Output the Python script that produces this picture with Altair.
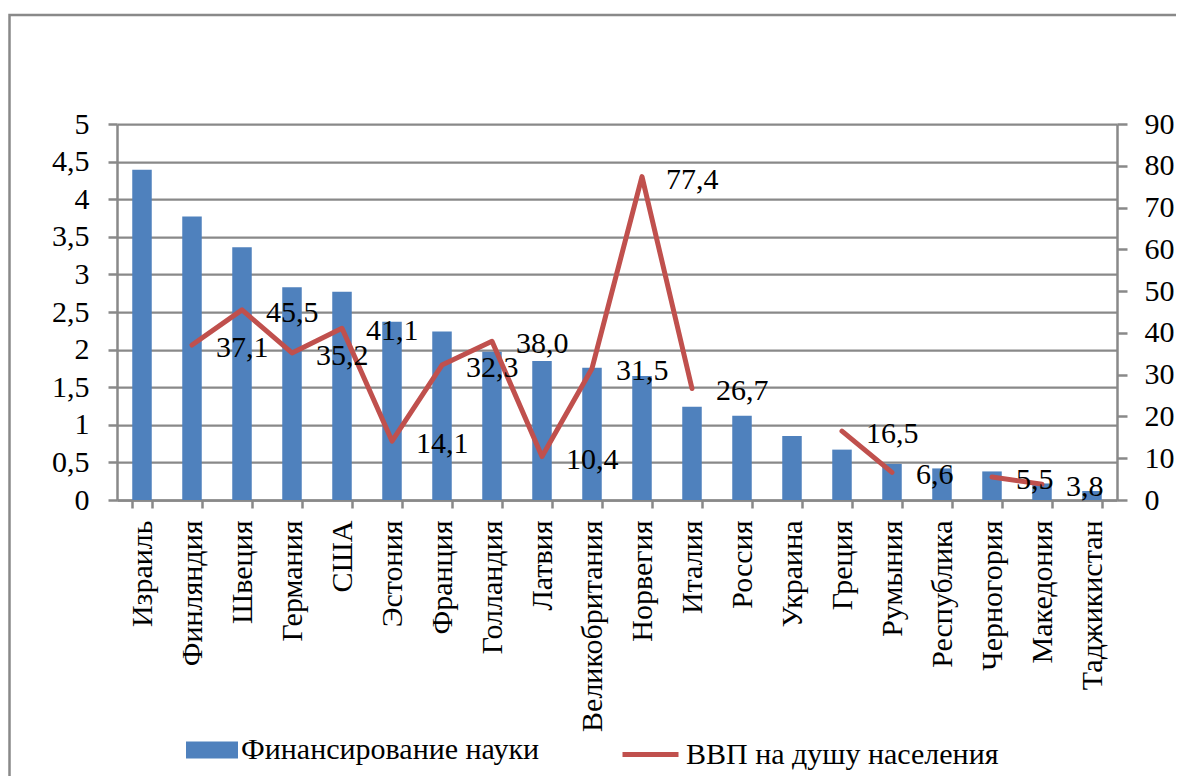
import altair as alt
import pandas as pd

countries = ["Израиль", "Финляндия", "Швеция", "Германия", "США", "Эстония",
             "Франция", "Голландия", "Латвия", "Великобритания", "Норвегия",
             "Италия", "Россия", "Украина", "Греция", "Румыния", "Республика",
             "Черногория", "Македония", "Таджикистан"]
science = [4.39, 3.77, 3.36, 2.83, 2.77, 2.37, 2.24, 1.97, 1.85, 1.76, 1.65,
           1.24, 1.12, 0.85, 0.67, 0.48, 0.42, 0.38, 0.22, 0.12]
gdp = [None, 37.1, 45.5, 35.2, 41.1, 14.1, 32.3, 38.0, 10.4, 31.5, 77.4,
       26.7, None, None, 16.5, 6.6, None, 5.5, 3.8, None]
left_ticks = [0, 0.5, 1, 1.5, 2, 2.5, 3, 3.5, 4, 4.5, 5]
right_ticks = [0, 10, 20, 30, 40, 50, 60, 70, 80, 90]
series_bar = "Финансирование науки"
series_line = "ВВП на душу населения"

FONT = "Liberation Serif, Times New Roman, Times, DejaVu Serif, Noto Serif, serif"
GREY = "#898989"
BLUE = "#4F81BD"
RED = "#C0504D"
FS = 30

df = pd.DataFrame({"country": countries, "science": science, "gdp": gdp})
base = alt.Chart(df)

x_enc = alt.X(
    "country:N", sort=countries,
    scale=alt.Scale(paddingInner=0.61, paddingOuter=0.305),
    axis=alt.Axis(title=None, labelAngle=270, labelAlign="right",
                  labelBaseline="middle", labelPadding=12, tickBand="extent",
                  tickSize=8, grid=False, labelFont=FONT, labelFontSize=FS,
                  labelColor="black", labelLimit=400),
)

bars = base.transform_calculate(s1=f"'{series_bar}'").mark_bar().encode(
    x=x_enc,
    y=alt.Y("science:Q",
            scale=alt.Scale(domain=[0, 5], nice=False, zero=True),
            axis=alt.Axis(title=None, values=left_ticks, format="~g",
                          labelExpr="replace(datum.label, '.', ',')",
                          grid=True, tickSize=9, labelPadding=19,
                          labelFont=FONT, labelFontSize=FS, labelColor="black")),
    fill=alt.Fill("s1:N", scale=alt.Scale(domain=[series_bar], range=[BLUE]),
                  legend=alt.Legend(title=None, orient="none", legendX=69,
                                    legendY=600, padding=0,
                                    symbolType="M-1,-0.33H1V0.33H-1Z",
                                    symbolSize=2704, symbolStrokeWidth=0,
                                    labelOffset=3, labelFont=FONT,
                                    labelFontSize=FS, labelColor="black",
                                    labelLimit=600)),
)

y_right = alt.Y("gdp:Q", scale=alt.Scale(domain=[0, 90], nice=False, zero=True),
                axis=alt.Axis(title=None, orient="right", values=right_ticks,
                              grid=False, tickSize=10, labelPadding=17,
                              labelFont=FONT, labelFontSize=FS,
                              labelColor="black"))

line = base.transform_calculate(s2=f"'{series_line}'").mark_line(
    strokeWidth=5, strokeCap="round", strokeJoin="round",
    invalid="break-paths-show-domains"
).encode(
    x=x_enc,
    y=y_right,
    stroke=alt.Stroke("s2:N", scale=alt.Scale(domain=[series_line], range=[RED]),
                      legend=alt.Legend(title=None, orient="none", legendX=503,
                                        legendY=600, padding=0,
                                        symbolType="stroke", symbolSize=3136,
                                        symbolStrokeWidth=5, labelOffset=5,
                                        labelFont=FONT, labelFontSize=FS,
                                        labelColor="black", labelLimit=600)),
)

labels = base.transform_filter("isValid(datum.gdp)").transform_calculate(
    lbl="replace(format(datum.gdp, '.1f'), '.', ',')"
).mark_text(font=FONT, fontSize=FS, align="left", baseline="middle",
            dx=24, dy=3, color="black").encode(
    x=x_enc,
    y=alt.Y("gdp:Q", scale=alt.Scale(domain=[0, 90], nice=False, zero=True),
            axis=None),
    text="lbl:N",
)

frame = alt.Chart(pd.DataFrame({"k": [0]})).mark_rect(
    fill="transparent", stroke=GREY, strokeWidth=2.5
).encode(
    x=alt.value(-107.5), x2=alt.value(1300),
    y=alt.value(-109), y2=alt.value(900),
)

chart = alt.layer(frame, bars, line, labels).resolve_scale(
    y="independent", fill="independent", stroke="independent"
).properties(
    width=1000, height=376,
    autosize=alt.AutoSizeParams(type="none"),
    padding={"left": 109, "top": 116, "right": 59, "bottom": 276},
    background="white",
).configure_view(stroke=None).configure_axis(
    domainColor=GREY, domainWidth=2.5, tickColor=GREY, tickWidth=2.5,
    gridColor=GREY, gridWidth=2.25,
).configure_text(font=FONT).configure_legend(labelFont=FONT)

chart.save("out.html", embed_options={"renderer": "svg", "actions": False})
